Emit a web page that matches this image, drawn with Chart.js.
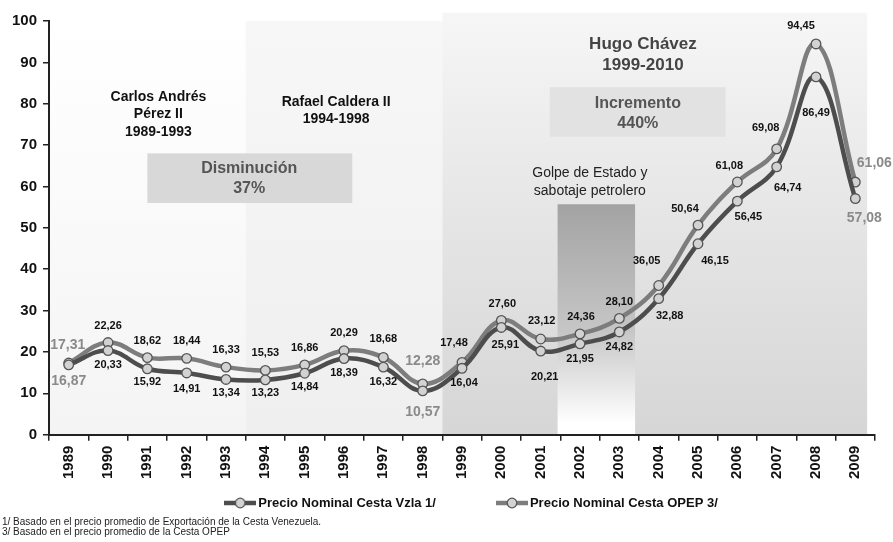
<!DOCTYPE html>
<html><head><meta charset="utf-8">
<script src="https://cdn.jsdelivr.net/npm/chart.js@4.4.0/dist/chart.umd.min.js"></script>
<style>
html,body{margin:0;padding:0;background:#fff;}
canvas{display:block;}
</style></head><body>
<canvas id="c" width="893" height="542"></canvas>
<script>
const years = ['1989','1990','1991','1992','1993','1994','1995','1996','1997','1998','1999','2000','2001','2002','2003','2004','2005','2006','2007','2008','2009'];
const vzla = [16.87,20.33,15.92,14.91,13.34,13.23,14.84,18.39,16.32,10.57,16.04,25.91,20.21,21.95,24.82,32.88,46.15,56.45,64.74,86.49,57.08];
const opep = [17.31,22.26,18.62,18.44,16.33,15.53,16.86,20.29,18.68,12.28,17.48,27.60,23.12,24.36,28.10,36.05,50.64,61.08,69.08,94.45,61.06];
const seriesNames = ['Precio Nominal Cesta Vzla 1/','Precio Nominal Cesta OPEP 3/'];
const yTicks = [0,10,20,30,40,50,60,70,80,90,100];
const footnotes = ['1/ Basado en el precio promedio de Exportación de la Cesta Venezuela.','3/ Basado en el precio promedio de la Cesta OPEP'];

const FONT = '"Liberation Sans", Arial, sans-serif';
const colVz = '#4d4d4d', colOp = '#7d7d7d';

// label offsets [dx,dy] per index
const offVz = {0:[0,16],1:[0,14],2:[0,13],3:[0,16],4:[0,14],5:[0,13],6:[0,14],7:[0,14],8:[0,15],9:[0,21],10:[2,15],11:[4,18],12:[4,26],13:[0,15],14:[0,15],15:[11,17],16:[17,17],17:[11,16],18:[11,21],19:[0,36],20:[9,20]};
const offOp = {0:[-1,-18],1:[0,-17],2:[0,-17],3:[0,-17],4:[0,-17],5:[0,-17],6:[0,-17],7:[0,-18],8:[0,-18],9:[0,-23],10:[-8,-19],11:[1,-17],12:[1,-18],13:[1,-17],14:[0,-16],15:[-12,-25],16:[-13,-16],17:[-8,-16],18:[-11,-21],19:[-15,-18],20:[19,-19]};
const emph = [0,9,20];

function fmt(v){ return v.toFixed(2).replace('.',','); }

function legendIcon(color){
  const c=document.createElement('canvas'); c.width=32; c.height=14;
  const g=c.getContext('2d');
  g.strokeStyle=color; g.lineWidth=4.5; g.beginPath(); g.moveTo(0,7); g.lineTo(32,7); g.stroke();
  g.beginPath(); g.arc(16,7,4.8,0,Math.PI*2); g.fillStyle='#d2d2d2'; g.fill();
  g.lineWidth=1.3; g.strokeStyle='#555'; g.stroke();
  return c;
}

const bgPlugin = {
  id:'bg',
  beforeDraw(chart){
    const {ctx, chartArea:a, scales:{x,y}} = chart;
    const w = x.width / years.length;
    const X = f => x.left + f*w;
    const Y = v => y.getPixelForValue(v);
    ctx.save();
    let g = ctx.createLinearGradient(0, Y(100), 0, a.bottom);
    g.addColorStop(0,'#ffffff'); g.addColorStop(1,'#f4f4f4');
    ctx.fillStyle=g; ctx.fillRect(X(0), Y(100), X(5)-X(0), a.bottom-Y(100));
    g = ctx.createLinearGradient(0, Y(100), 0, a.bottom);
    g.addColorStop(0,'#f7f7f7'); g.addColorStop(1,'#efefef');
    ctx.fillStyle=g; ctx.fillRect(X(5), Y(100), X(10)-X(5), a.bottom-Y(100));
    g = ctx.createLinearGradient(0, Y(102), 0, a.bottom);
    g.addColorStop(0,'#f6f6f6'); g.addColorStop(0.5,'#e5e5e5'); g.addColorStop(1,'#d6d6d6');
    ctx.fillStyle=g; ctx.fillRect(X(10), Y(102), X(20.8)-X(10), a.bottom-Y(102));
    g = ctx.createLinearGradient(0, Y(55.7), 0, a.bottom);
    g.addColorStop(0,'#a3a3a3'); g.addColorStop(0.55,'#c6c6c6'); g.addColorStop(0.95,'#ffffff');
    ctx.fillStyle=g; ctx.fillRect(X(12.93), Y(55.7), X(14.9)-X(12.93), a.bottom-Y(55.7));
    ctx.restore();
  },
  beforeDatasetsDraw(chart){
    const {ctx, scales:{x,y}} = chart;
    const w = x.width / years.length;
    const X = f => x.left + f*w;
    const Y = v => y.getPixelForValue(v);
    ctx.save();
    ctx.fillStyle='#d8d8d8'; ctx.fillRect(X(2.5), Y(68), X(7.71)-X(2.5), Y(56)-Y(68));
    ctx.fillStyle='#e2e2e2'; ctx.fillRect(X(12.73), Y(84), X(17.2)-X(12.73), Y(72)-Y(84));
    ctx.textAlign='center'; ctx.textBaseline='middle';
    const txt = (s, f, v, font, color) => { ctx.font=font; ctx.fillStyle=color; ctx.fillText(s, X(f), Y(v)); };
    const b14 = 'bold 14px '+FONT;
    txt('Carlos Andrés',2.78,81.7,b14,'#111');
    txt('Pérez II',2.78,77.4,b14,'#111');
    txt('1989-1993',2.78,73.2,b14,'#111');
    txt('Rafael Caldera II',7.3,80.5,b14,'#111');
    txt('1994-1998',7.3,76.2,b14,'#111');
    txt('Hugo Chávez',15.1,94.3,'bold 17px '+FONT,'#444');
    txt('1999-2010',15.1,89.4,'bold 17px '+FONT,'#444');
    txt('Golpe de Estado y',13.75,63.1,'14px '+FONT,'#222');
    txt('sabotaje petrolero',13.75,58.8,'14px '+FONT,'#222');
    txt('Disminución',5.09,64.4,'bold 16px '+FONT,'#555');
    txt('37%',5.09,59.4,'bold 16px '+FONT,'#555');
    txt('Incremento',14.97,80.1,'bold 16px '+FONT,'#555');
    txt('440%',14.97,75.2,'bold 16px '+FONT,'#555');
    ctx.restore();
  },
  afterDatasetsDraw(chart){
    const {ctx} = chart;
    ctx.save();
    ctx.textAlign='center'; ctx.textBaseline='middle';
    [[0,offVz],[1,offOp]].forEach(([di,offs])=>{
      const meta = chart.getDatasetMeta(di);
      const data = chart.data.datasets[di].data;
      meta.data.forEach((pt,i)=>{
        const o = offs[i];
        if (emph.includes(i)) { ctx.font='bold 14px '+FONT; ctx.fillStyle='#8a8a8a'; }
        else { ctx.font='bold 11px '+FONT; ctx.fillStyle='#111'; }
        ctx.fillText(fmt(data[i]), pt.x+o[0], pt.y+o[1]);
      });
    });
    ctx.restore();
  },
  afterDraw(chart){
    const {ctx} = chart;
    ctx.save();
    ctx.font='bold 13px '+FONT; ctx.textBaseline='middle'; ctx.textAlign='left';
    const icons = [legendIcon(colVz), legendIcon(colOp)];
    const tw = seriesNames.map(s=>ctx.measureText(s).width);
    const total = 34+tw[0]+60+34+tw[1];
    let cx = 471 - total/2;
    const ly = 503;
    seriesNames.forEach((s,i)=>{
      ctx.drawImage(icons[i], cx, ly-7);
      ctx.fillStyle='#111';
      ctx.fillText(s, cx+34, ly);
      cx += 34 + tw[i] + 60;
    });
    ctx.font='10px '+FONT; ctx.fillStyle='#222'; ctx.textBaseline='middle';
    ctx.fillText(footnotes[0], 2, 522);
    ctx.fillText(footnotes[1], 2, 532);
    ctx.restore();
  }
};

new Chart(document.getElementById('c'), {
  type:'line',
  data:{
    labels: years,
    datasets:[
      {label:seriesNames[0], data:vzla, borderColor:colVz, borderWidth:4.5, tension:0.4,
       pointRadius:4.8, pointBackgroundColor:'#d2d2d2', pointBorderColor:'#555', pointBorderWidth:1.3, fill:false},
      {label:seriesNames[1], data:opep, borderColor:colOp, borderWidth:4.5, tension:0.4,
       pointRadius:4.8, pointBackgroundColor:'#d2d2d2', pointBorderColor:'#555', pointBorderWidth:1.3, fill:false}
    ]
  },
  options:{
    responsive:false, animation:false, devicePixelRatio:1,
    layout:{padding:{left:6, right:18, top:21, bottom:58}},
    plugins:{legend:{display:false}, tooltip:{enabled:false}},
    scales:{
      x:{
        offset:true,
        grid:{offset:true, drawOnChartArea:false, drawTicks:true, tickLength:6, color:'#222', lineWidth:1.5},
        border:{color:'#222', width:2},
        ticks:{font:{family:FONT, size:15, weight:'bold'}, color:'#111', minRotation:90, maxRotation:90, padding:5, autoSkip:false}
      },
      y:{
        min:0, max:100,
        afterBuildTicks(scale){ scale.ticks = yTicks.map(v=>({value:v})); },
        grid:{drawOnChartArea:false, drawTicks:true, tickLength:6, color:'#222', lineWidth:1.5},
        border:{color:'#222', width:2},
        ticks:{font:{family:FONT, size:15, weight:'bold'}, color:'#111', padding:6}
      }
    }
  },
  plugins:[bgPlugin]
});
</script>
</body></html>
